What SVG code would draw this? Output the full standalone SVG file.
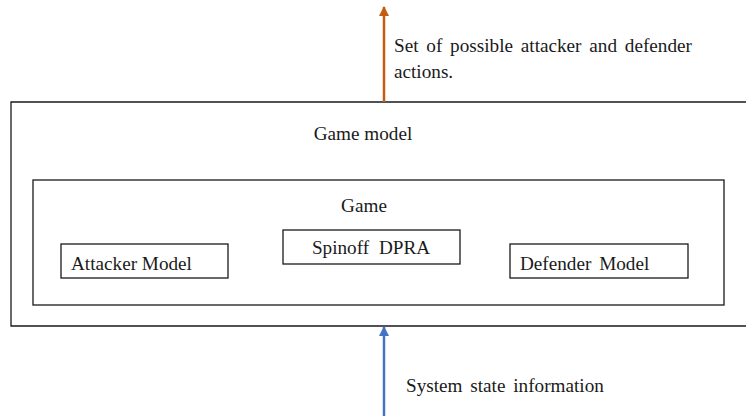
<svg xmlns="http://www.w3.org/2000/svg" width="746" height="416" viewBox="0 0 746 416">
  <style>
    .box { fill: #ffffff; stroke: #1a1a1a; stroke-width: 1.3; }
    text { font-family: 'Liberation Serif', 'DejaVu Serif', serif; font-size: 19.2px; fill: #1a1a1a; }
  </style>
  <defs>
    <marker id="headOrange" viewBox="0 0 10 10" refX="9" refY="5" markerWidth="4" markerHeight="4" orient="auto" markerUnits="strokeWidth">
      <path d="M0,0 L10,5 L0,10 z" fill="#C55A11"/>
    </marker>
    <marker id="headBlue" viewBox="0 0 10 10" refX="9" refY="5" markerWidth="4" markerHeight="4" orient="auto" markerUnits="strokeWidth">
      <path d="M0,0 L10,5 L0,10 z" fill="#4472C4"/>
    </marker>
  </defs>
  <rect width="746" height="416" fill="#ffffff"/>

  <!-- outer frame: open on the right side -->
  <g id="game-model">
    <path class="box" d="M748,102 H11 V326 H748" fill="none"/>
    <text x="363" y="140" text-anchor="middle">Game model</text>
  </g>

  <g id="game">
    <rect class="box" x="33" y="180" width="691" height="125"/>
    <text x="364" y="212" text-anchor="middle">Game</text>
  </g>

  <g id="attacker-model">
    <rect class="box" x="61" y="244" width="167" height="34"/>
    <text x="71" y="270">Attacker Model</text>
  </g>

  <g id="spinoff-dpra">
    <rect class="box" x="283" y="230" width="177" height="34"/>
    <text x="371" y="254" text-anchor="middle" word-spacing="5">Spinoff DPRA</text>
  </g>

  <g id="defender-model">
    <rect class="box" x="510" y="244" width="178" height="34"/>
    <text x="520" y="270" word-spacing="3">Defender Model</text>
  </g>

  <g id="connectors">
    <line x1="384" y1="102" x2="384" y2="7" stroke="#C55A11" stroke-width="2.5" marker-end="url(#headOrange)"/>
    <line x1="384" y1="416" x2="384" y2="327" stroke="#4472C4" stroke-width="2.5" marker-end="url(#headBlue)"/>
    <text x="394" y="52" word-spacing="3">Set of possible attacker and defender</text>
    <text x="394" y="78">actions.</text>
    <text x="406" y="392" word-spacing="3">System state information</text>
  </g>
</svg>
